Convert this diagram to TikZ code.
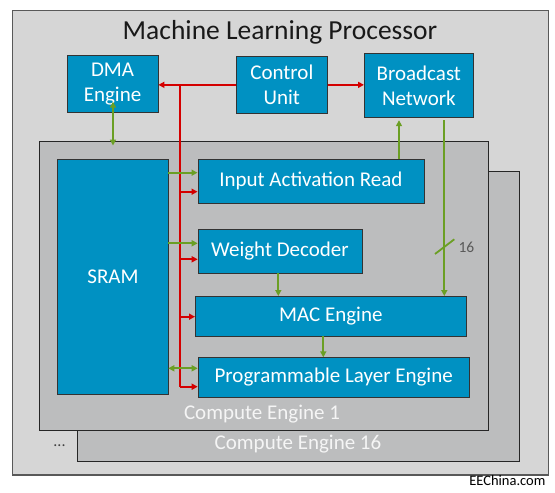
\documentclass[tikz,border=0pt]{standalone}
\usepackage{fontspec}
\setmainfont{Carlito}
\usetikzlibrary{arrows.meta,calc}
\definecolor{bgout}{HTML}{D6D6D6}
\definecolor{cegray}{HTML}{BCBDBE}
\definecolor{boxblue}{HTML}{0091C2}
\definecolor{redc}{HTML}{D40000}
\definecolor{greenc}{HTML}{6B9F24}
\tikzset{
  bbox/.style={draw=black!80, line width=0.7pt, fill=boxblue, text=white, anchor=north west, inner sep=0pt, align=center, font=\fontsize{21}{25}\selectfont},
  cebox/.style={draw=black!85, line width=1.2pt, fill=cegray, anchor=north west, inner sep=0pt},
  redl/.style={draw=redc, line width=1.8pt, -{Triangle[length=6pt,width=6pt]}},
  redplain/.style={draw=redc, line width=1.8pt},
  grl/.style={draw=greenc, line width=1.8pt, -{Triangle[length=6pt,width=6pt]}},
  grd/.style={draw=greenc, line width=1.8pt, {Triangle[length=6pt,width=6pt]}-{Triangle[length=6pt,width=6pt]}},
}
\begin{document}
\begin{tikzpicture}[x=1pt,y=-1pt]
\useasboundingbox (0,0) rectangle (555,493);
% outer processor box
\node[draw=black!65, line width=1.2pt, fill=bgout, anchor=north west, inner sep=0pt, minimum width=536.3pt, minimum height=464.8pt] (proc) at (11.7,9.5) {};
\node[font=\fontsize{27.5}{30}\selectfont, text=black!90] (title) at (280,32) {Machine Learning Processor};
% top blocks
\node[bbox, minimum width=91pt, minimum height=57.3pt] (dma) at (66.7,55) {DMA\\Engine};
\node[bbox, minimum width=91pt, minimum height=57pt] (cu) at (236,56) {Control\\Unit};
\node[bbox, minimum width=109pt, minimum height=64pt] (bn) at (364,53) {Broadcast\\Network};
% compute engines
\node[cebox, minimum width=442pt, minimum height=290pt] (ce16) at (77,171) {};
\node[cebox, minimum width=449.5pt, minimum height=289.5pt] (ce1) at (38.5,140.5) {};
\node[font=\fontsize{21}{24}\selectfont, text=white!96!black] (ce1lab) at (262,414) {Compute Engine 1};
\node[font=\fontsize{21}{24}\selectfont, text=white!96!black] (ce16lab) at (298,444) {Compute Engine 16};
\node[font=\fontsize{16}{18}\selectfont, text=black!75] (dots) at (59.5,446) {...};
% inner blocks
\node[bbox, minimum width=111.3pt, minimum height=235.5pt] (sram) at (57,158.5) {};
\node[font=\fontsize{21}{25}\selectfont, text=white] (sramlab) at (sram.center) {SRAM};
\node[bbox, minimum width=226pt, minimum height=43.5pt] (iar) at (197.5,159) {Input Activation Read};
\node[bbox, minimum width=163.8pt, minimum height=43.4pt] (wd) at (197.7,229.3) {Weight Decoder};
\node[bbox, minimum width=271pt, minimum height=39.7pt] (mac) at (195,296) {MAC Engine};
\node[bbox, minimum width=271.3pt, minimum height=39.7pt] (ple) at (197.7,357.3) {Programmable Layer Engine};
% red control lines
\draw[redl] (cu.west) -- (cu.west -| dma.east);
\draw[redl] (cu.east) -- (cu.east -| bn.west);
\coordinate (jt) at (180,84.5);
\coordinate (rb) at (180,386.7);
\coordinate (r1) at (180,191.7);
\coordinate (r2) at (180,259.3);
\coordinate (r3) at (180,316.7);
\draw[redplain] (jt) -- (rb);
\draw[redl] (rb) -- (rb -| ple.west);
\draw[redl] (r1) -- (r1 -| iar.west);
\draw[redl] (r2) -- (r2 -| wd.west);
\draw[redl] (r3) -- (r3 -| mac.west);
% green data lines
\coordinate (d1) at (113,101.7);
\coordinate (d2) at (113,145.5);
\draw[grd] (d1) -- (d2);
\coordinate (g1) at (168.3,172.7);
\coordinate (g2) at (168.3,243.3);
\coordinate (g3) at (168.3,368.3);
\draw[grl] (g1) -- (g1 -| iar.west);
\draw[grl] (g2) -- (g2 -| wd.west);
\draw[grd] (g3) -- (g3 -| ple.west);
\coordinate (ia) at (399,159);
\draw[grl, shorten >=2.5pt] (ia) -- (ia |- bn.south);
\coordinate (bm) at (444.3,120);
\draw[grl] (bm) -- (bm |- mac.north);
\coordinate (s1) at (435,254);
\coordinate (s2) at (454.3,239.3);
\draw[draw=greenc, line width=1.8pt] (s1) -- (s2);
\node[font=\fontsize{15.5}{18}\selectfont, text=black!65, anchor=west] (sixteen) at (455,247.5) {16};
\coordinate (wm) at (278.3,272.7);
\draw[grl] (wm) -- (wm |- mac.north);
\coordinate (mp) at (323.3,335.7);
\draw[grl] (mp) -- (mp |- ple.north);
% credit
\node[font=\fontsize{14.5}{16}\selectfont, text=black, anchor=east] (credit) at (549,481) {EEChina.com};
\end{tikzpicture}
\end{document}
